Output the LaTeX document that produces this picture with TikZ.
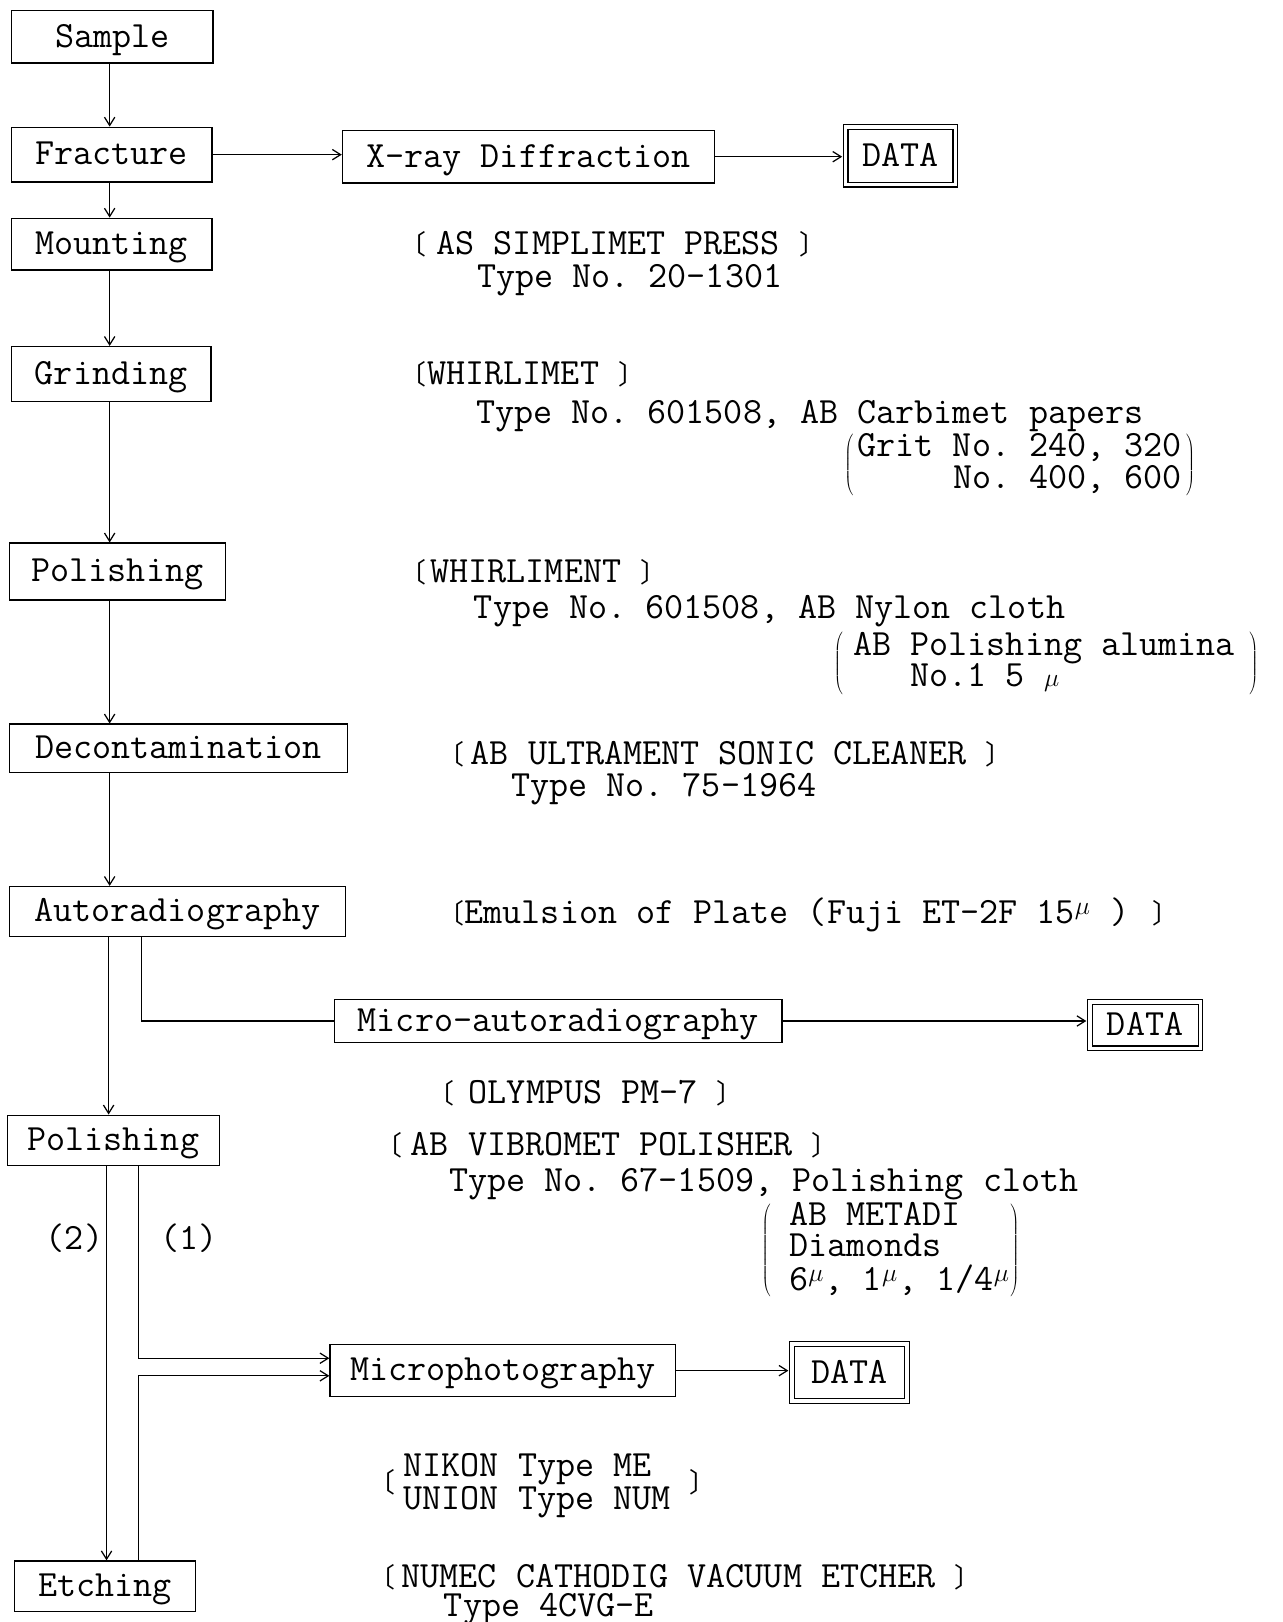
\documentclass[tikz,border=0pt]{standalone}
\usepackage{fontspec}
\newfontfamily\cjk{Noto Sans CJK JP}
\usetikzlibrary{arrows.meta,calc}
\newcommand{\opb}{{\cjk\fontsize{26}{26}\selectfont 〔}}
\newcommand{\clb}{{\cjk\fontsize{26}{26}\selectfont 〕}}
\newcommand{\supmu}{\makebox[16pt][l]{\raisebox{9pt}{\fontsize{24}{24}\selectfont$\mu$}}}
\newcommand{\tightrows}{\fontsize{35.8}{26}\selectfont}
\begin{document}
\begin{tikzpicture}[x=1pt,y=-1pt,
  font=\fontsize{35.8}{31}\selectfont\ttfamily\frenchspacing,
  box/.style={draw,line width=1.2pt,inner sep=0pt,text height=24pt,text depth=4pt},
  data/.style={draw,double,double distance=3.5pt,line width=1.1pt,inner sep=0pt,text height=24pt,text depth=4pt},
  arr/.style={line width=1.2pt,-{Straight Barb[length=8pt,width=10pt]}},
  ln/.style={line width=1.2pt},
  txt/.style={anchor=base west,inner sep=0pt},
  blk/.style={anchor=west,inner sep=0pt}]
\fill[white] (0,0) rectangle (1240,1568);
\useasboundingbox (0,0) rectangle (1240,1568);
% boxes
\node[box,minimum width=195pt,minimum height=51pt] (sample) at (108.5,35.5) {Sample};
\node[box,minimum width=194pt,minimum height=53pt] (fracture) at (108,149.5) {Fracture};
\node[box,minimum width=360pt,minimum height=51pt] (xray) at (511,151.5) {X-ray Diffraction};
\node[data,minimum width=106pt,minimum height=56pt] (d1) at (870.5,150.5) {DATA};
\node[box,minimum width=194pt,minimum height=50pt] (mounting) at (108,236) {Mounting};
\node[box,minimum width=193pt,minimum height=53pt] (grinding) at (107.5,361.5) {Grinding};
\node[box,minimum width=209pt,minimum height=55pt] (polish1) at (113.5,552.5) {Polishing};
\node[box,minimum width=327pt,minimum height=47pt] (decon) at (172.5,723.5) {Decontamination};
\node[box,minimum width=325pt,minimum height=48pt] (autorad) at (171.5,881) {Autoradiography};
\node[box,minimum width=433pt,minimum height=42pt] (microauto) at (539.5,987) {Micro-autoradiography};
\node[data,minimum width=107pt,minimum height=45pt] (d2) at (1107,991) {DATA};
\node[box,minimum width=205pt,minimum height=49pt] (polish2) at (109.5,1102.5) {Polishing};
\node[box,minimum width=334pt,minimum height=50pt] (microphoto) at (486,1325) {Microphotography};
\node[data,minimum width=111pt,minimum height=55pt] (d3) at (821,1327) {DATA};
\node[box,minimum width=175pt,minimum height=49pt] (etching) at (101.5,1533.5) {Etching};
% spine coordinates
\coordinate (sp) at (106,0);
\coordinate (sp2) at (105,0);
\coordinate (b1) at (137,0);
\coordinate (l1) at (134,0);
\coordinate (l2) at (103,0);
% connectors
\draw[arr] (sample.south -| sp) -- (fracture.north -| sp);
\draw[arr] (fracture.east) -- (xray.west |- fracture.east);
\draw[arr,shorten >=2.8pt] (xray.east) -- (d1.west |- xray.east);
\draw[arr] (fracture.south -| sp) -- (mounting.north -| sp);
\draw[arr] (mounting.south -| sp) -- (grinding.north -| sp);
\draw[arr] (grinding.south -| sp) -- (polish1.north -| sp);
\draw[arr] (polish1.south -| sp) -- (decon.north -| sp);
\draw[arr] (decon.south -| sp) -- (autorad.north -| sp);
\draw[arr] (autorad.south -| sp2) -- (polish2.north -| sp2);
\draw[ln] (autorad.south -| b1) |- (microauto.west);
\draw[arr,shorten >=2.8pt] (microauto.east) -- (d2.west |- microauto.east);
\draw[arr] (polish2.south -| l2) -- (etching.north -| l2);
\draw[arr] (polish2.south -| l1) |- ($(microphoto.west)+(0,-12)$);
\draw[arr] (etching.north -| l1) |- ($(microphoto.west)+(0,5)$);
\draw[arr,shorten >=2.8pt] (microphoto.east) -- (d3.west |- microphoto.east);
\node (lab2) at (72,1197) {(2)};
\node (lab1) at (183,1197) {(1)};
% texts
\node[txt] (t1) at (386,246) {\opb\hspace{10pt}AS SIMPLIMET PRESS \clb};
\node[txt] (t2) at (461,278) {Type No. 20-1301};
\node[txt] (t3) at (386,372) {\opb\hspace{1pt}WHIRLIMET \clb};
\node[txt] (t4) at (460,409) {Type No. 601508, AB Carbimet papers};
\node[blk] (t5) at (816,449.5) {$\left(\,\vcenter{\hbox{\tightrows\begin{tabular}{@{}r@{}}Grit No. 240, 320\\[1pt]No. 400, 600\end{tabular}}}\,\right)$};
\node[txt] (t6) at (386,563) {\opb\hspace{4pt}WHIRLIMENT \clb};
\node[txt] (t7) at (458,598) {Type No. 601508, AB Nylon cloth};
\node[blk] (t8) at (806,641.5) {$\left(\hspace{10pt}\vcenter{\hbox{\tightrows\begin{tabular}{@{}l@{}}AB Polishing alumina\\\ \ \ No.1 5 $\mu$\end{tabular}}}\hspace{14pt}\right)$};
\node[txt] (t9) at (423,739) {\opb\hspace{6pt}AB ULTRAMENT SONIC CLEANER \clb};
\node[txt] (t10) at (494,770) {Type No. 75-1964};
\node[txt] (t11) at (423,893) {\opb Emulsion of Plate (Fuji ET-2F 15\supmu\ )\hspace{22pt}\clb};
\node[txt] (t12) at (413,1067) {\opb\hspace{14pt}OLYMPUS PM-7 \clb};
\node[txt] (t13) at (363,1117) {\opb\hspace{8pt}AB VIBROMET POLISHER \clb};
\node[txt] (t14) at (434,1152) {Type No. 67-1509, Polishing cloth};
\node[blk] (t15) at (736,1209) {$\left(\hspace{18pt}\vcenter{\hbox{\tightrows\begin{tabular}{@{}l@{}}AB METADI\\Diamonds\\6\supmu, 1\supmu, 1/4\supmu\end{tabular}}}\right)$};
\node[blk] (t16) at (356,1437) {\opb\hspace{8pt}\begin{tabular}{@{}l@{}}NIKON Type ME\\UNION Type NUM\end{tabular}\ \clb};
\node[txt] (t17) at (356,1535) {\opb\hspace{6pt}NUMEC CATHODIG VACUUM ETCHER \clb};
\node[txt] (t18) at (429,1563) {Type 4CVG-E};
\end{tikzpicture}
\end{document}
